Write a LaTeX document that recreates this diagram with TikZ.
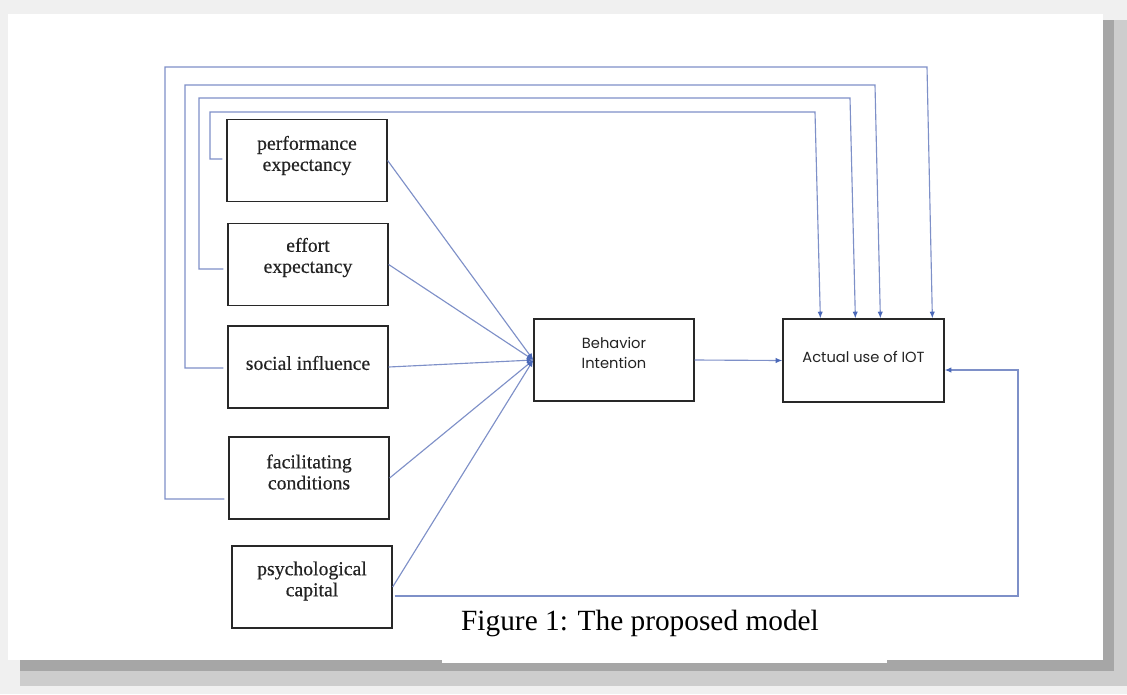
\documentclass[tikz,border=0pt]{standalone}
\usepackage{fontspec}
\setmainfont{Liberation Serif}
\newfontfamily\boxfont[FakeBold=0.4]{Liberation Serif}
\newfontfamily\sansfont{Poppins}
\usetikzlibrary{arrows.meta,calc}
\definecolor{conn}{RGB}{126,144,200}
\definecolor{arrowc}{RGB}{74,104,184}
\definecolor{boxline}{RGB}{40,40,40}
\definecolor{pagebg}{RGB}{240,240,240}
\definecolor{shadowA}{RGB}{166,166,166}
\definecolor{shadowB}{RGB}{205,205,205}
\definecolor{txt}{RGB}{35,35,35}
\begin{document}
\begin{tikzpicture}[x=0.75pt,y=-0.75pt,
  box/.style={draw=boxline,line width=0.95pt,minimum width=120pt,minimum height=61.5pt,inner sep=0pt},
  serifbox/.style={align=center,text=txt,font=\boxfont\fontsize{14.8}{15.8}\selectfont,inner sep=0pt},
  sansbox/.style={align=center,text=txt,font=\sansfont\fontsize{11}{15}\selectfont,inner sep=0pt},
  link/.style={draw=conn,line width=0.85pt,-{Latex[length=5pt,width=4pt,color=arrowc]}},
]
% page and shadow
\fill[pagebg] (0,0) rectangle (1127,694);
\fill[shadowB] (1114,20) rectangle (1127,686);
\fill[shadowA] (1103,20) rectangle (1114,671);
\fill[shadowB] (20,671) rectangle (1114,686);
\fill[shadowA] (20,660) rectangle (1114,671);
\fill[white] (8,14) rectangle (1103,660);
\useasboundingbox (0,0) rectangle (1127,694);

% boxes
\node[box] (pe) at (307,160.5) {};
\node[serifbox] at ($(pe.center)+(0,-5)$) {performance\\expectancy};
\node[box] (ee) at (308,264.5) {};
\node[serifbox] at ($(ee.center)+(0,-7)$) {effort\\expectancy};
\node[box] (si) at (308,367) {};
\node[serifbox] at ($(si.center)+(0,-4)$) {social influence};
\node[box] (fc) at (309,478) {};
\node[serifbox] at ($(fc.center)+(0,-6)$) {facilitating\\conditions};
\node[box] (pc) at (312,587) {};
\node[serifbox] at ($(pc.center)+(0,-6)$) {psychological\\capital};

\node[box] (bi) at (614,360) {};
\node[sansbox] at ($(bi.center)+(0,-7)$) {Behavior\\Intention};
\node[box,minimum width=120.75pt,minimum height=62.25pt] (au) at (863.5,360.5) {};
\node[sansbox] at ($(au.center)+(0,-3.5)$) {Actual use of IOT};

% caption
\fill[white] (442,597) rectangle (887,663);
\node[font=\fontsize{22}{26}\selectfont,text=black,inner sep=0pt] (cap) at (640,623) {Figure 1: The proposed model};

% arrows into behavior intention
\draw[link] (pe.east) -- (bi.west);
\draw[link] (ee.east) -- (bi.west);
\draw[link] (si.east) -- (bi.west);
\draw[link] (fc.east) -- (bi.west);
\draw[link] (pc.east) -- (bi.west);

% behavior intention to actual use
\draw[link] (bi.east) -- (au.west);

% direct paths to actual use
\draw[link] ($(pe.west)+(-4,-1.5)$) -| (210,112) -- (815,112) -- ($(au.north west)+(38,0)$);
\draw[link] ($(ee.west)+(-4,4.5)$) -| (199,98) -- (850,98) -- ($(au.north west)+(73,0)$);
\draw[link] ($(si.west)+(-4,1)$) -| (185,85) -- (875,85) -- ($(au.north west)+(98,0)$);
\draw[link] ($(fc.west)+(-4,21)$) -| (165,67) -- (927,67) -- ($(au.north west)+(150,0)$);
\draw[link] ($(pc.east)+(2,9)$) -| (1018,370) -- ($(au.east)+(0,9.5)$);
\end{tikzpicture}
\end{document}
